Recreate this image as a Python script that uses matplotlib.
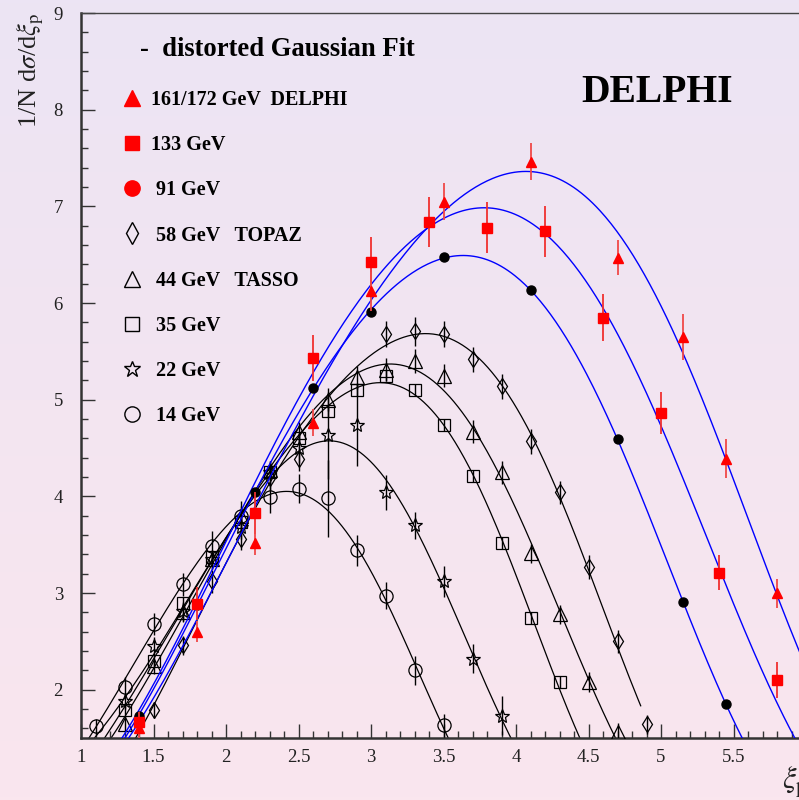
import numpy as np
import matplotlib
matplotlib.use("Agg")
import matplotlib.pyplot as plt
from matplotlib.lines import Line2D
from matplotlib.colors import LinearSegmentedColormap

plt.rcParams['font.family'] = ['Liberation Serif', 'DejaVu Serif']
plt.rcParams['mathtext.fontset'] = 'stix'

# ---------------- data ----------------
xi_14 = [1.1, 1.3, 1.5, 1.7, 1.9, 2.1, 2.3, 2.5, 2.7, 2.9, 3.1, 3.3, 3.5]
y_14 = [1.62, 2.03, 2.68, 3.09, 3.49, 3.80, 3.99, 4.08, 3.98, 3.44, 2.97, 2.20, 1.63]
e_14 = [0.08, 0.10, 0.11, 0.12, 0.15, 0.15, 0.16, 0.15, 0.40, 0.16, 0.14, 0.15, 0.12]

xi_22 = [1.3, 1.5, 1.7, 1.9, 2.1, 2.3, 2.5, 2.7, 2.9, 3.1, 3.3, 3.5, 3.7, 3.9]
y_22 = [1.88, 2.45, 2.81, 3.35, 3.68, 4.25, 4.50, 4.63, 4.74, 4.04, 3.70, 3.12, 2.32, 1.73]
e_22 = [0.08, 0.10, 0.10, 0.10, 0.12, 0.12, 0.15, 0.45, 0.43, 0.18, 0.14, 0.16, 0.15, 0.20]

xi_35 = [1.3, 1.5, 1.7, 1.9, 2.1, 2.3, 2.5, 2.7, 2.9, 3.1, 3.3, 3.5, 3.7, 3.9, 4.1, 4.3]
y_35 = [1.79, 2.30, 2.90, 3.37, 3.73, 4.25, 4.60, 4.88, 5.10, 5.25, 5.10, 4.74, 4.21, 3.52, 2.74, 2.08]
e_35 = [0.05, 0.06, 0.06, 0.06, 0.08, 0.06, 0.06, 0.06, 0.06, 0.06, 0.06, 0.06, 0.06, 0.06, 0.06, 0.06]

xi_44 = [1.3, 1.5, 1.7, 1.9, 2.1, 2.3, 2.5, 2.7, 2.9, 3.1, 3.3, 3.5, 3.7, 3.9, 4.1, 4.3, 4.5, 4.7]
y_44 = [1.65, 2.24, 2.80, 3.35, 3.80, 4.27, 4.67, 5.00, 5.23, 5.31, 5.40, 5.25, 4.67, 4.25, 3.41, 2.78, 2.08, 1.56]
e_44 = [0.08, 0.08, 0.10, 0.10, 0.10, 0.10, 0.10, 0.12, 0.12, 0.12, 0.12, 0.12, 0.12, 0.12, 0.10, 0.10, 0.10, 0.10]

xi_58 = [1.5, 1.7, 1.9, 2.1, 2.3, 2.5, 3.1, 3.3, 3.5, 3.7, 3.9, 4.1, 4.3, 4.5, 4.7, 4.9]
y_58 = [1.79, 2.46, 3.12, 3.56, 4.19, 4.39, 5.68, 5.71, 5.68, 5.42, 5.14, 4.57, 4.04, 3.27, 2.50, 1.64]
e_58 = [0.08, 0.10, 0.12, 0.12, 0.13, 0.13, 0.13, 0.15, 0.13, 0.13, 0.13, 0.13, 0.12, 0.12, 0.12, 0.10]

xi_91 = [1.4, 1.8, 2.2, 2.6, 3.0, 3.5, 4.1, 4.7, 5.15, 5.45]
y_91 = [1.73, 2.88, 4.04, 5.12, 5.91, 6.48, 6.13, 4.59, 2.91, 1.85]
e_91 = [0.02, 0.02, 0.02, 0.02, 0.02, 0.02, 0.02, 0.02, 0.02, 0.02]

xi_133 = [1.4, 1.8, 2.2, 2.6, 3.0, 3.4, 3.8, 4.2, 4.6, 5.0, 5.4, 5.8]
y_133 = [1.67, 2.89, 3.83, 5.43, 6.42, 6.84, 6.78, 6.74, 5.85, 4.86, 3.21, 2.10]
e_133 = [0.10, 0.17, 0.22, 0.24, 0.26, 0.26, 0.26, 0.26, 0.24, 0.22, 0.18, 0.19]

xi_161 = [1.4, 1.8, 2.2, 2.6, 3.0, 3.5, 4.1, 4.7, 5.15, 5.45, 5.8]
y_161 = [1.60, 2.60, 3.52, 4.76, 6.12, 7.05, 7.46, 6.47, 5.65, 4.39, 3.00]
e_161 = [0.10, 0.11, 0.13, 0.14, 0.20, 0.19, 0.19, 0.18, 0.24, 0.20, 0.15]

# fitted distorted-Gaussian curves of the DELPHI 133 and 161/172 GeV data,
# as read off the published curves
fit_xi_133 = [1.47, 2.2, 2.35, 2.6, 3.0, 3.21, 3.79, 4.2, 4.46, 4.6, 4.99, 5.4, 5.8, 5.95]
fit_y_133 = [2.0, 4.08, 4.59, 5.29, 6.24, 6.55, 6.94, 6.74, 6.26, 5.90, 4.87, 3.21, 1.77, 1.5]
fit_xi_161 = [1.52, 2.2, 2.49, 2.6, 3.0, 3.21, 3.5, 4.05, 4.3, 4.72, 4.81, 5.15, 5.43, 5.8, 5.95]
fit_y_161 = [2.0, 3.98, 4.59, 4.90, 6.11, 6.55, 7.02, 7.32, 7.20, 6.65, 6.45, 5.59, 4.49, 3.08, 2.21]

labels = ["161/172 GeV  DELPHI", "133 GeV", " 91 GeV", " 58 GeV   TOPAZ",
          " 44 GeV   TASSO", " 35 GeV", " 22 GeV", " 14 GeV"]

# ---------------- figure ----------------
W, H = 799, 800
fig = plt.figure(figsize=(W / 100, H / 100), dpi=100)

# gradient background
bg = fig.add_axes([0, 0, 1, 1], zorder=-10)
cmap = LinearSegmentedColormap.from_list("bg", ["#ECE4F4", "#FAE6EE"])
bg.imshow(np.linspace(0, 1, 256).reshape(-1, 1), aspect='auto', cmap=cmap,
          extent=[0, 1, 0, 1])
bg.set_axis_off()

x0, x1, y0, y1 = 1.0, 6.0, 1.5, 9.0
left_px, top_px, bottom_px = 81, 13, 738
ppu_x = 145.0
ax = fig.add_axes([left_px / W, (H - bottom_px) / H,
                   (x1 - x0) * ppu_x / W, (bottom_px - top_px) / H])
ax.set_facecolor('none')
ax.set_xlim(x0, x1)
ax.set_ylim(y0, y1)


def dgauss_fit(x, y, e, lo, hi):
    """distorted Gaussian = exp(quartic in xi), least-squares in log space"""
    x = np.asarray(x, float); y = np.asarray(y, float)
    if e is None:
        w = y
    else:
        w = y / np.maximum(np.asarray(e, float), 0.05)
    c = np.polyfit(x, np.log(y), 4, w=w)
    xx = np.linspace(lo, hi, 400)
    return xx, np.exp(np.polyval(c, xx))


black_sets = [
    (xi_58, y_58, e_58, 'd', 8.5, 4.86),
    (xi_44, y_44, e_44, '^', 10, 4.8),
    (xi_35, y_35, e_35, 's', 8.5, 4.6),
    (xi_22, y_22, e_22, '*', 10, 4.1),
    (xi_14, y_14, e_14, 'o', 9.5, 3.7),
]

for xs, ys, es, mk, ms, hi in black_sets:
    xx, yy = dgauss_fit(xs, ys, es, 1.0, hi)
    ax.plot(xx, yy, color='black', lw=0.9, zorder=2)
    ax.errorbar(xs, ys, yerr=es, fmt=mk, ms=ms, mfc='none', mec='black',
                mew=0.9, ecolor='black', elinewidth=1.0, capsize=0, zorder=3)

for xs, ys, es, hi in [(xi_91, y_91, e_91, 5.7),
                       (fit_xi_133, fit_y_133, None, 6.1),
                       (fit_xi_161, fit_y_161, None, 6.1)]:
    xx, yy = dgauss_fit(xs, ys, es, 1.0, hi)
    ax.plot(xx, yy, color='#0000ff', lw=1.0, zorder=4)

ax.errorbar(xi_91, y_91, yerr=e_91, fmt='o', ms=6.5, mfc='black', mec='black',
            ecolor='black', elinewidth=1.0, capsize=0, zorder=5)
ax.errorbar(xi_133, y_133, yerr=e_133, fmt='s', ms=7, mfc='#ff0000', mec='#ff0000',
            ecolor='#f03030', elinewidth=1.3, capsize=0, zorder=6)
ax.errorbar(xi_161, y_161, yerr=e_161, fmt='^', ms=7.5, mfc='#ff0000', mec='#ff0000',
            ecolor='#f04848', elinewidth=1.3, capsize=0, zorder=6)

# ---------------- axes styling ----------------
ax.set_xticks([1, 1.5, 2, 2.5, 3, 3.5, 4, 4.5, 5, 5.5])
ax.set_xticklabels(['1', '1.5', '2', '2.5', '3', '3.5', '4', '4.5', '5', '5.5'])
ax.set_xticks(np.arange(1.1, 6.0, 0.1), minor=True)
ax.set_yticks([2, 3, 4, 5, 6, 7, 8, 9])
ax.set_yticklabels(['2', '3', '4', '5', '6', '7', '8', '9'])
ax.set_yticks(np.arange(1.6, 9.0, 0.2), minor=True)
ax.tick_params(which='major', direction='in', length=10, width=1.0,
               color='#333333', labelsize=13.5, labelcolor='#222222')
ax.tick_params(which='minor', direction='in', length=5, width=1.0, color='#333333')
ax.tick_params(axis='x', which='major', pad=8)
ax.tick_params(axis='y', which='major', pad=13)
for s in ['left', 'bottom']:
    ax.spines[s].set_linewidth(1.8)
    ax.spines[s].set_color('#333333')
ax.spines['top'].set_linewidth(1.0)
ax.spines['top'].set_color('#444444')
ax.spines['right'].set_linewidth(1.0)

# y label
fig.text(30 / W, 1 - 70 / H, r'1/N d$\sigma$/d$\xi_{\rm p}$', rotation=90,
         ha='center', va='center', fontsize=19, color='#222222')
# x label (cut by the right edge, as in the original)
fig.text(782 / W, 1 - 782 / H, r'$\xi_{\rm p}$', ha='left', va='center',
         fontsize=22, color='#222222')

# title texts
fig.text(140 / W, 1 - 50 / H, '-  distorted Gaussian Fit', ha='left', va='center',
         fontsize=19.2, fontweight='bold')
fig.text(581 / W, 1 - 92 / H, 'DELPHI', ha='left', va='center',
         fontsize=28.5, fontweight='bold')

# legend
handles = [
    Line2D([], [], ls='none', marker='^', ms=11, mfc='#ff0000', mec='#ff0000'),
    Line2D([], [], ls='none', marker='s', ms=10, mfc='#ff0000', mec='#ff0000'),
    Line2D([], [], ls='none', marker='o', ms=11, mfc='#ff0000', mec='#ff0000'),
    Line2D([], [], ls='none', marker='d', ms=11, mfc='none', mec='black', mew=1.0),
    Line2D([], [], ls='none', marker='^', ms=12, mfc='none', mec='black', mew=1.0),
    Line2D([], [], ls='none', marker='s', ms=10.5, mfc='none', mec='black', mew=1.0),
    Line2D([], [], ls='none', marker='*', ms=12, mfc='none', mec='black', mew=1.0),
    Line2D([], [], ls='none', marker='o', ms=11, mfc='none', mec='black', mew=1.0),
]
leg = ax.legend(handles, labels, loc='upper left',
                bbox_to_anchor=((122 - left_px) / ((x1 - x0) * ppu_x),
                                (bottom_px - 90) / (bottom_px - top_px)),
                frameon=False, prop={'weight': 'bold', 'size': 14.5},
                handlelength=1.0, handletextpad=0.45, labelspacing=1.25,
                borderpad=0, borderaxespad=0)

fig.savefig('out.png', dpi=100)
